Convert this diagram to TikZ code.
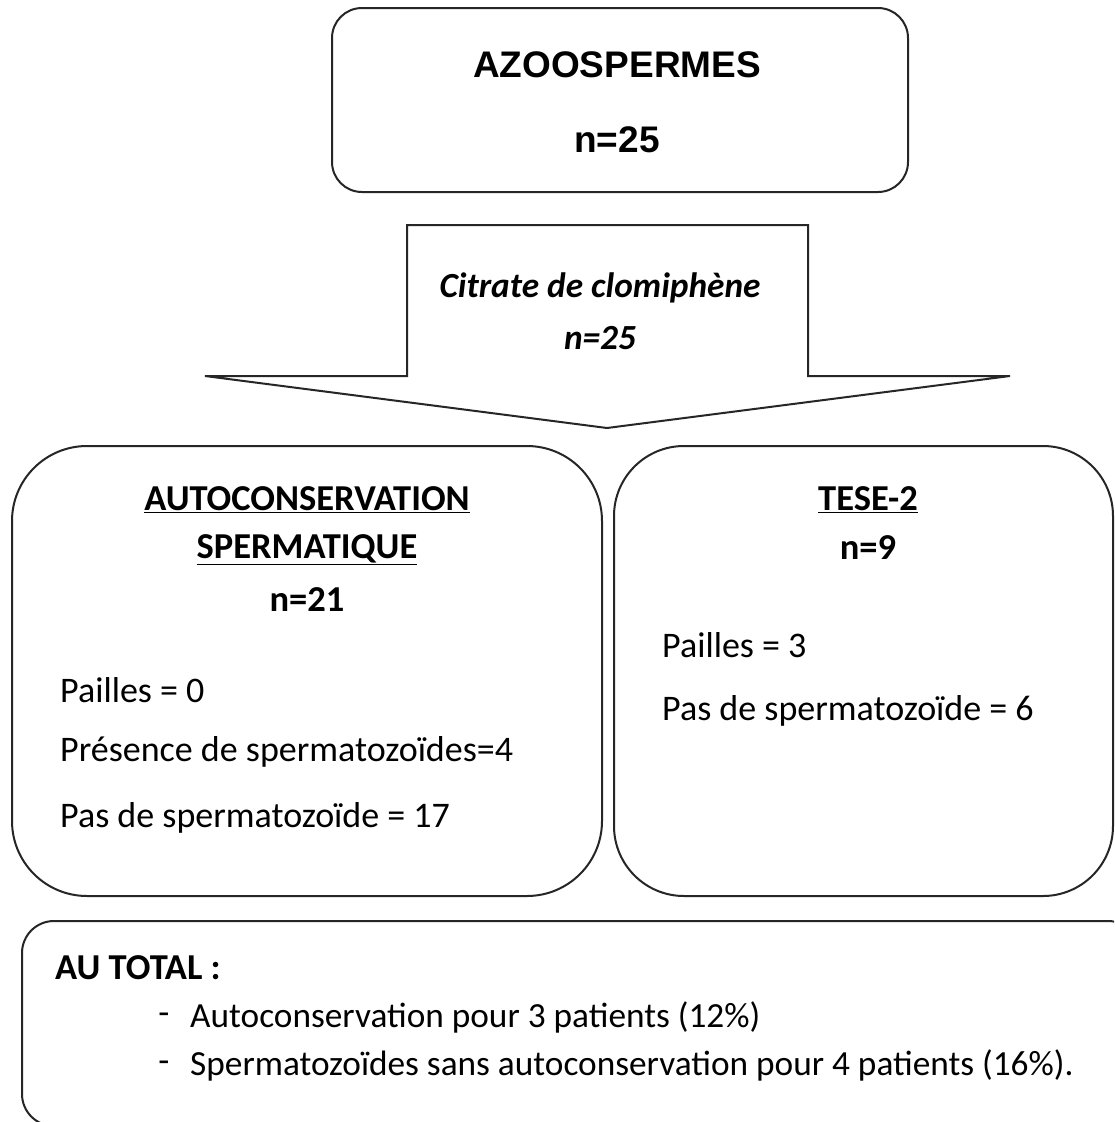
\documentclass[tikz,border=0pt]{standalone}
\usepackage{fontspec}
\setmainfont{Carlito}
\newfontfamily\arialfont{Liberation Sans}
\begin{document}
\begin{tikzpicture}[x=1pt,y=-1pt,
  box/.style={draw=black!85, line width=2pt, fill=white},
  txt/.style={inner sep=0pt, font=\fontsize{36}{42}\selectfont},
  hdr/.style={inner sep=0pt, font=\fontsize{36.5}{42}\selectfont\bfseries},
  ithdr/.style={inner sep=0pt, font=\fontsize{35.3}{42}\selectfont\bfseries\itshape},
  toptxt/.style={inner sep=0pt, font=\arialfont\fontsize{37}{42}\selectfont\bfseries},
  ltxt/.style={txt, anchor=west},
  btxt/.style={inner sep=0pt, anchor=west, font=\fontsize{35.3}{42}\selectfont}]
\useasboundingbox (0,0) rectangle (1114,1122);
\clip (0,0) rectangle (1114,1122);
% top box
\draw[box, rounded corners=30pt] (332,8) rectangle (908,192);
\node[toptxt] (azoo) at (617,65) {AZOOSPERMES};
\node[toptxt] (n25) at (617,140) {n=25};
% arrow
\draw[box] (407,225) -- (808,225) -- (808,376) -- (1010,376) -- (607,428)
  -- (205,376) -- (407,376) -- cycle;
\node[ithdr] (citrate) at (600,288) {Citrate de clomiphène};
\node[ithdr] (cn25) at (600,338) {n=25};
% left box
\draw[box, rounded corners=75pt] (12,446) rectangle (602,896);
\node[hdr] (auto) at (307,500) {\underline{AUTOCONSERVATION}};
\node[hdr] (sperm) at (307,550) {\underline{SPERMATIQUE}};
\node[hdr] (n21) at (307,600) {n=21};
\node[ltxt] (p0) at (60,690) {Pailles = 0};
\node[ltxt] (pres) at (60,752) {Présence de spermatozoïdes=4};
\node[ltxt] (pas17) at (60,818) {Pas de spermatozoïde = 17};
% right box
\draw[box, rounded corners=70pt] (614,446) rectangle (1113,896);
\node[hdr] (tese) at (868,500) {\underline{TESE-2}};
\node[hdr] (n9) at (868,548) {n=9};
\node[ltxt] (p3) at (662,645) {Pailles = 3};
\node[ltxt] (pas6) at (662,711) {Pas de spermatozoïde = 6};
% bottom box
\draw[box, rounded corners=32pt] (22,921) rectangle (1140,1126);
\node[hdr, anchor=west] (total) at (55,968) {AU TOTAL :};
\node[txt] (d1) at (164,1019) {-};
\node[txt] (d2) at (164,1067) {-};
\node[btxt] (l1) at (190,1017) {Autoconservation pour 3 patients (12\%)};
\node[btxt] (l2) at (190,1065) {Spermatozoïdes sans autoconservation pour 4 patients (16\%).};
\end{tikzpicture}
\end{document}
